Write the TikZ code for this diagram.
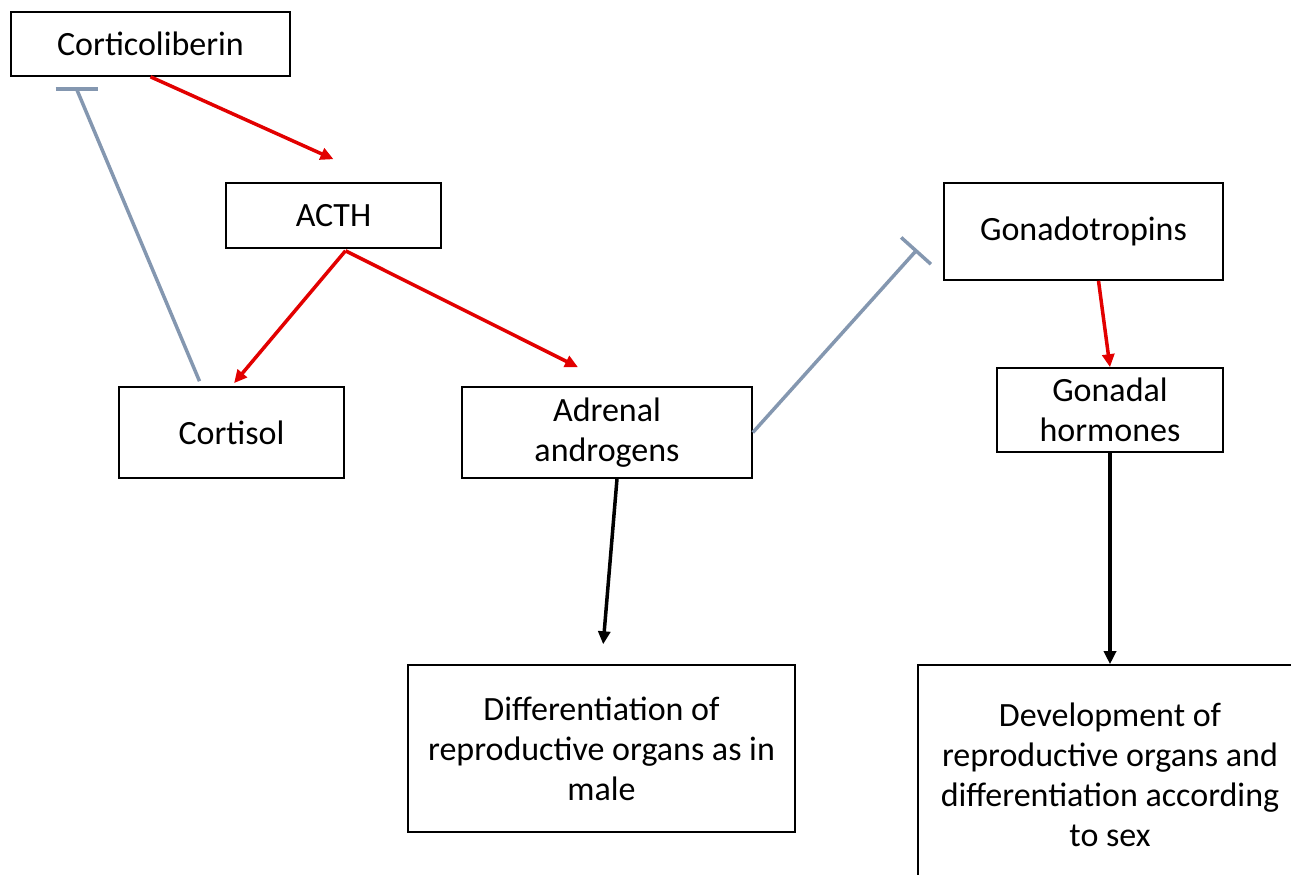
\documentclass[tikz,border=0pt]{standalone}
\usepackage{fontspec}
\setmainfont{Carlito}
\usetikzlibrary{arrows.meta,calc}
\definecolor{actred}{RGB}{226,0,0}
\definecolor{inhgray}{RGB}{132,151,176}

\begin{document}
\begin{tikzpicture}[x=0.5pt,y=-0.5pt,
    box/.style={draw,line width=0.8pt,inner sep=0pt,align=center,
      font=\fontsize{17}{20}\selectfont},
    act/.style={actred,line width=1.75pt,-{Triangle[length=6.5pt,width=6pt]}},
    lead/.style={black,line width=1.75pt,-{Triangle[length=6.5pt,width=6pt]}},
    inh/.style={inhgray,line width=1.75pt}]
    \useasboundingbox (0,0) rectangle (1291,874);
    \clip (0,0) rectangle (1291,874);

    \node [box,minimum width=139.5pt,minimum height=32pt] (cortico)
    at (150.5,44) {Corticoliberin};

    \node [box,minimum width=107.5pt,minimum height=32.5pt] (acth)
    at (333.5,215.5) {ACTH};

    \node [box,minimum width=112.5pt,minimum height=45.5pt] (cortisol)
    at (231.5,432.5) {Cortisol};

    \node [box,minimum width=145pt,minimum height=45.5pt] (adrenal)
    at (607,432.5) {Adrenal\\androgens};

    \node [box,minimum width=139.5pt,minimum height=48.5pt] (gonado)
    at (1083.5,231.5) {Gonadotropins};

    \node [box,minimum width=113pt,minimum height=42pt] (gonadal)
    at (1110,410) {Gonadal\\hormones};

    \node [box,minimum width=193.5pt,minimum height=83.5pt] (diff)
    at (601.5,748.5) {Differentiation of\\reproductive organs as in\\male};

    \node [box,minimum width=192pt,minimum height=110pt] (devel)
    at (1110,775) {Development of\\reproductive organs and\\differentiation according\\to sex};

    % stimulating steps
    \draw [act] (cortico.south) -- ($(acth.north)+(0,-23)$);
    \draw [act,shorten >=2pt] ($(acth.south)+(12,2)$) -- (cortisol.north);
    \draw [act] ($(acth.south)+(12,2)$) -- ($(adrenal.north)+(-29,-19)$);
    \draw [act] ($(gonado.south)+(15,0)$) -- (gonadal.north);

    % effects on the organs
    \draw [lead,shorten >=10pt] ($(adrenal.south)+(10,0)$) -- (diff.north);
    \draw [lead] (gonadal.south) -- (devel.north);

    % feedback inhibition
    \coordinate (fbk) at ($(cortico.south)+(-74,12)$);
    \draw [inh] ($(cortisol.north)+(-32,-5)$) -- (fbk);
    \draw [inh] (fbk) +(-21,0) -- +(21,0);

    \draw [inh,-{Bar[width=20pt]}] (adrenal.east) --
    ($(gonado.west)+(-26,18)$);
\end{tikzpicture}
\end{document}
